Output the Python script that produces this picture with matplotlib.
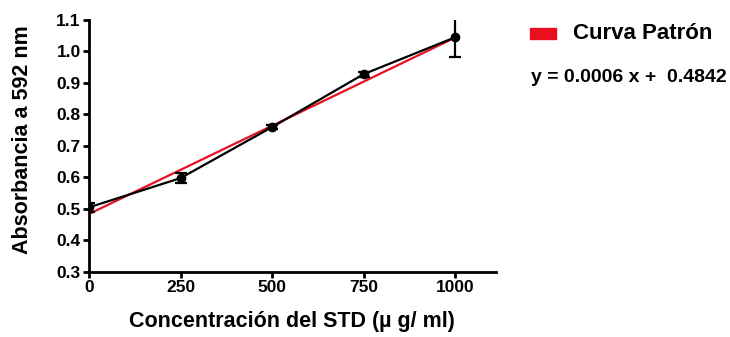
import matplotlib.pyplot as plt
import numpy as np

plt.rcParams["font.family"] = ["Liberation Sans", "DejaVu Sans"]
plt.rcParams["font.weight"] = "bold"

conc = [0, 250, 500, 750, 1000]
absorb = [0.505, 0.598, 0.760, 0.928, 1.045]
err = [0.015, 0.015, 0.006, 0.008, 0.062]

slope = 0.00056
intercept = 0.4842
fit_x = np.array([0, 1000])

fig = plt.figure(figsize=(7.3, 3.37), dpi=100)
ax = fig.add_axes([0.122, 0.193, 0.557, 0.748])

ax.plot(fit_x, slope * fit_x + intercept, color="#e8101e", lw=1.6, zorder=2)
ax.errorbar(conc, absorb, yerr=err, color="black", lw=1.6, marker="o", ms=6,
            capsize=4, capthick=1.6, elinewidth=1.6, zorder=3)

ax.set_xlim(0, 1110)
ax.set_ylim(0.3, 1.1)
ax.set_xticks([0, 250, 500, 750, 1000])
yt = np.arange(0.3, 1.11, 0.1)
ax.set_yticks(yt)
ax.set_yticklabels([f"{v:.1f}" for v in yt])
for s in ["top", "right"]:
    ax.spines[s].set_visible(False)
for s in ["left", "bottom"]:
    ax.spines[s].set_linewidth(2)
ax.tick_params(width=2, length=4, labelsize=12.5, pad=2)
ax.set_xlabel("Concentración del STD (µ g/ ml)", fontsize=15.5, fontweight="bold", labelpad=11)
ax.set_ylabel("Absorbancia a 592 nm", fontsize=15.5, fontweight="bold")
ax.yaxis.set_label_coords(-0.138, 0.524)

fig.patches.append(plt.Rectangle((0.726, 0.885), 0.036, 0.032, transform=fig.transFigure,
                                 color="#e8101e"))
fig.text(0.785, 0.902, "Curva Patrón", fontsize=16, va="center")
fig.text(0.727, 0.77, "y = 0.0006 x +  0.4842", fontsize=14, va="center")

fig.savefig("out.png", dpi=100)
